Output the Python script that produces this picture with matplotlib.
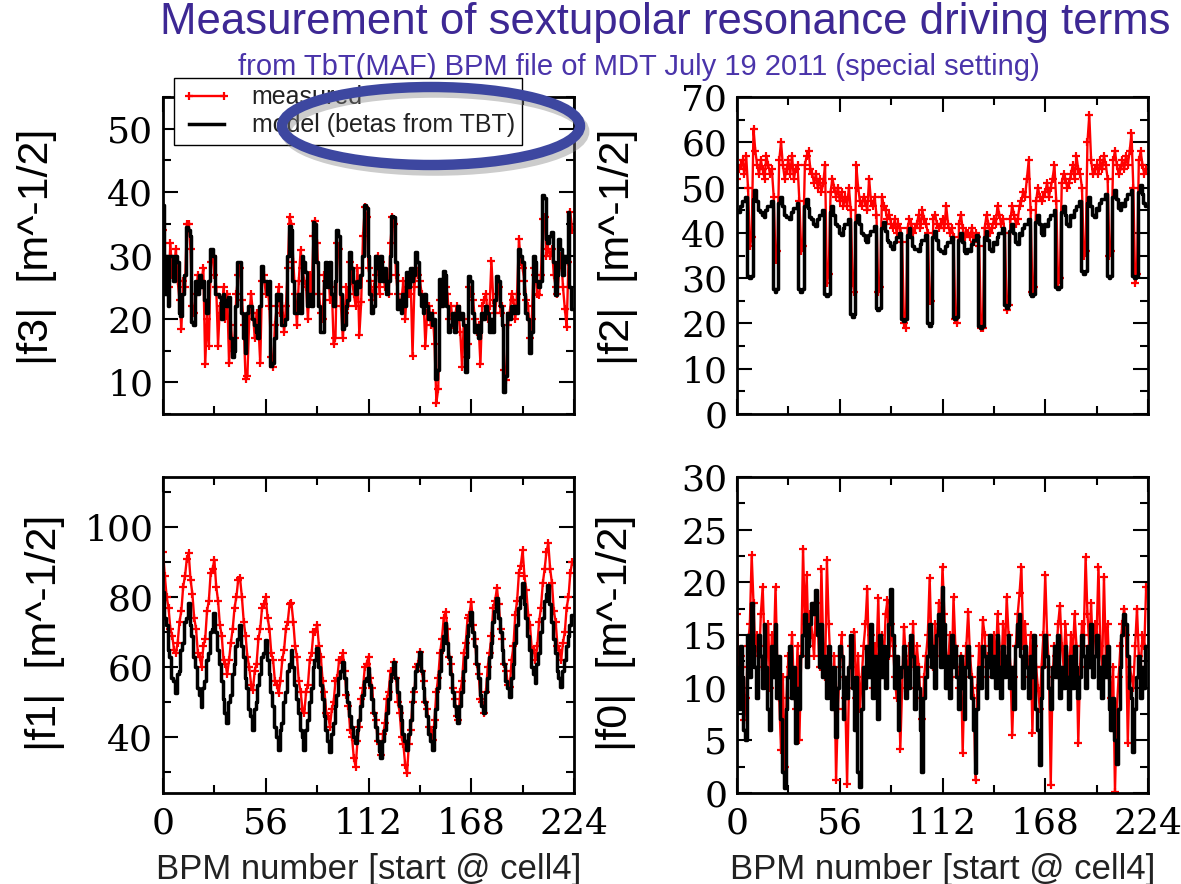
import numpy as np
import matplotlib
matplotlib.use("Agg")
import matplotlib.pyplot as plt
from matplotlib.patches import Ellipse
from matplotlib.ticker import MultipleLocator, FixedLocator
import matplotlib.patheffects as pe

plt.rcParams["font.family"] = ["Liberation Sans", "DejaVu Sans"]

# BPM index along the ring (start @ cell4)
bpm = np.arange(224)

# ---------------- |f3| ----------------
f3_measured = [
    34, 26, 28, 25, 32, 27, 28, 31, 26, 23, 18.4, 26, 25, 35,
    35, 31, 22, 21, 24, 27, 25, 26, 28, 12.9, 20, 15.8, 29, 30,
    27, 25, 15.8, 22, 21, 25, 20, 24, 13, 19, 15, 17, 24, 27,
    28, 23, 19, 10.5, 11, 20, 24, 21, 17, 21, 19, 13, 26, 27,
    24, 25, 22, 14, 12.4, 19, 22, 25, 21, 22, 18, 22, 28, 36,
    35, 29, 24, 19, 26, 30.8, 28, 26, 25, 20, 27, 24, 33, 35.5,
    32, 24, 21, 20, 27, 26, 28, 23, 25, 16, 17, 32, 31, 22,
    17, 21, 25, 22, 29, 26, 24, 22, 28, 17.4, 22.6, 33, 37.6, 36,
    28, 26, 23, 25, 27, 30, 24, 29, 27, 25, 26, 24, 32, 36,
    35, 27, 24, 22, 23, 26, 20, 25, 24, 26, 14.2, 25, 28, 27,
    26, 24, 23, 15.8, 21, 22, 19, 21, 16, 6.8, 9, 23, 24, 26,
    25, 24, 20, 22, 19, 20, 22, 21, 18, 12.4, 20, 14, 16, 25,
    24, 23, 20, 18, 19, 12.9, 22, 23, 24, 20, 22, 29.2, 23, 21,
    24, 25, 21, 22, 12, 10.3, 19, 21, 24, 23, 20, 24, 32.6, 29,
    28, 26, 23, 22, 17, 20, 28, 27, 24, 23.7, 27, 35.8, 36, 30,
    31, 30, 31, 27, 25, 24, 28, 30, 25, 21.6, 18.7, 29, 36.8, 34,
]
f3_model = [
    38, 24, 30, 22, 30, 30, 26, 30, 29, 21, 20.5, 24, 27, 34.5,
    34, 33, 19.5, 19, 26, 24, 27, 25, 26, 23, 21, 26, 31, 31,
    30, 24, 24, 23.5, 20, 24, 23, 22, 23.5, 17, 14, 15, 22, 29,
    29, 21, 17, 14.7, 21, 22, 22, 20, 19, 18, 17, 22, 28.4, 26,
    26, 24, 26, 12.6, 13, 17, 24, 23, 24, 19, 19, 20, 30, 34.7,
    34, 26, 21, 21, 24, 21, 30, 29, 27.4, 22, 24, 22, 35.3, 35,
    29, 22, 18, 18, 26, 29, 25, 29, 24, 22, 26, 34, 33, 24,
    18.4, 19, 22, 23, 30.5, 28, 25.8, 24, 26, 25, 27, 30, 38, 37.5,
    30, 24, 21, 22, 30, 28, 26, 30, 26, 28, 24, 26, 30, 36.3,
    36, 29, 21.6, 23, 21, 24, 22, 27.4, 25, 28, 26, 27, 30.5, 29,
    24, 22, 21, 24, 22, 20, 21, 19, 20, 10.5, 12, 26.3, 22, 27.6,
    27, 22, 18, 19, 21, 18, 21, 22, 20, 21, 19, 11.6, 14, 26.8,
    26, 21, 18, 19, 17, 18, 21, 20, 22, 21, 18, 20, 18, 23,
    26.8, 26, 22, 19, 8.4, 11, 21, 20, 22, 21, 22, 21, 31, 30,
    29, 24, 21, 20, 14.7, 18, 30, 29, 26, 25, 26, 39.5, 39, 32.6,
    32, 33, 33.7, 29, 23.7, 27, 32.6, 31, 27, 30, 29, 36.8, 25, 21.6,
]

# ---------------- |f2| ----------------
f2_measured = [
    52, 54, 55, 56, 53, 57, 50, 37, 39, 63, 58, 55, 53, 56,
    54, 52, 57, 55, 53, 54, 48, 34, 36, 56, 60, 55, 52, 54,
    56, 53, 57, 52, 54, 55, 47, 36, 37, 55, 57, 58, 54, 53,
    51, 53, 50, 52, 49, 51, 55, 29, 31, 49, 52, 50, 48, 50,
    47, 49, 46, 48, 46, 50, 45, 29, 27, 55, 50, 47, 46, 48,
    47, 45, 52, 47, 46, 48, 44, 27, 28, 48, 46, 45, 43, 44,
    42, 41, 43, 40, 42, 41, 38, 20, 19, 41, 43, 42, 40, 41,
    42, 44, 41, 45, 43, 42, 40, 25, 25, 43, 44, 42, 41, 42,
    43, 41, 46, 42, 40, 41, 39, 21, 20, 42, 44, 41, 39, 40,
    40, 39, 41, 38, 40, 39, 37, 19, 19, 41, 44, 42, 40, 41,
    43, 42, 46, 44, 42, 43, 40, 23, 24, 43, 46, 44, 42, 43,
    46, 47, 49, 48, 52, 56, 45, 27, 28, 47, 50, 48, 47, 48,
    49, 51, 48, 50, 52, 55, 47, 29, 30, 51, 53, 52, 50, 51,
    53, 55, 52, 57, 54, 53, 50, 35, 36, 60, 66, 56, 53, 54,
    55, 53, 56, 54, 57, 55, 52, 35, 36, 56, 58, 55, 53, 54,
    56, 54, 57, 55, 58, 62, 50, 29, 31, 56, 58, 55, 53, 54,
]
f2_model = [
    45, 44.5, 46, 47, 47, 48, 30.5, 30, 30.5, 47.5, 49.5, 47, 45, 44.5,
    44, 43.5, 45, 46, 46, 47, 27.5, 27, 27.5, 46.5, 48, 46, 44, 43.5,
    43.5, 43, 44.5, 45.5, 45.5, 46.5, 27.5, 27, 27.5, 46, 47.5, 45.5, 43.5, 43,
    42, 41.5, 43, 44, 44, 45, 26.5, 26, 26.5, 44.5, 46, 44, 42, 41.5,
    40, 39.5, 41, 42, 42, 43, 22, 21.5, 22, 42.5, 44, 42, 40, 39.5,
    38.5, 38, 39.5, 40.5, 40.5, 41.5, 23.5, 23, 23.5, 41, 42.5, 40.5, 38.5, 38,
    37, 36.5, 38, 39, 39, 40, 21, 20.5, 21, 39.5, 41, 39, 37, 36.5,
    36.5, 36, 37.5, 38.5, 38.5, 39.5, 20, 19.5, 20, 39, 40.5, 38.5, 36.5, 36,
    36, 35.5, 37, 38, 38, 39, 21.5, 21, 21.5, 38.5, 40, 38, 36, 35.5,
    36.5, 36, 37.5, 38.5, 38.5, 39.5, 19.5, 19, 19.5, 39, 40.5, 38.5, 36.5, 36,
    38, 37.5, 39, 40, 40, 41, 24, 23.5, 24, 40.5, 42, 40, 38, 37.5,
    40, 39.5, 41, 42, 42, 43, 26.5, 26, 26.5, 42.5, 44, 42, 40, 39.5,
    42, 41.5, 43, 44, 44, 45, 28, 27.5, 28, 44.5, 46, 44, 42, 41.5,
    44, 43.5, 45, 46, 46, 47, 31.5, 31, 31.5, 46.5, 48, 46, 44, 43.5,
    45.5, 45, 46.5, 47.5, 47.5, 48.5, 30.5, 30, 30.5, 48, 49.5, 47.5, 45.5, 45,
    46.5, 46, 47.5, 48.5, 48.5, 49.5, 30.5, 30, 30.5, 49, 50.5, 48.5, 46.5, 46,
]

# ---------------- |f1| ----------------
f1_measured = [
    93, 86, 80, 77, 71, 69, 65, 64, 67, 73, 76, 83, 86, 91,
    92.5, 85, 81, 74, 71, 64, 63, 60, 66, 68, 76, 79, 87, 88,
    90.6, 83, 79, 72, 69, 62, 61, 58, 62, 67, 71, 77, 80, 85,
    85.3, 80, 73, 69, 63, 60, 55, 53.4, 59, 61, 68, 71, 77, 78,
    80, 74, 71, 64, 62, 56, 55, 52.5, 56, 62, 65, 71, 73, 78,
    78.2, 73, 66, 63, 56, 53, 48, 46.8, 53, 55, 62, 64, 70, 70,
    72, 66, 63, 56, 53, 47, 46, 43, 48, 50, 56, 57, 62, 62,
    63.9, 59, 52, 49, 42, 40, 34, 31.5, 39, 43, 51, 54, 60, 61,
    63, 57, 54, 47, 45, 39, 38, 34.9, 41, 44, 51, 53, 59, 59,
    61.5, 57, 50, 47, 40, 38, 32, 29.6, 38, 42, 50, 53, 60, 61,
    64.4, 59, 56, 50, 48, 43, 42, 39.1, 45, 53, 57, 64, 68, 74,
    75.8, 71, 63, 61, 54, 51, 46, 44.9, 53, 56, 64, 67, 74, 75,
    78.7, 72, 68, 61, 58, 51, 50, 46.8, 53, 60, 64, 69, 77, 79,
    82.5, 78, 71, 68, 61, 59, 55, 54.4, 62, 66, 75, 79, 87, 89,
    93.4, 86, 82, 75, 72, 65, 65, 62, 66, 73, 77, 84, 88, 93,
    95.3, 88, 84, 76, 73, 66, 65, 62, 67, 70, 77, 80, 87, 90,
]
f1_model = [
    81.5, 74, 72, 65, 63, 57, 56, 52.5, 58, 59, 65, 67, 73, 74,
    78.2, 72, 69, 63, 60, 54, 52, 48.7, 54, 56, 62, 64, 70, 71,
    75.3, 70, 65, 61, 56, 51, 47, 43.9, 50, 52, 58, 61, 66, 68,
    72, 66, 63, 57, 54, 48, 46, 42, 48, 50, 55, 58, 63, 64,
    67.7, 62, 58, 53, 49, 43, 40, 36.3, 42, 44, 50, 53, 59, 61,
    64.9, 60, 55, 51, 47, 42, 40, 36.3, 42, 45, 50, 54, 60, 62,
    65.3, 60, 55, 51, 46, 42, 39, 35.8, 41, 44, 49, 52, 57, 59,
    61.5, 57, 53, 50, 46, 43, 40, 38.2, 42, 45, 49, 52, 56, 57,
    59.6, 55, 51, 47, 43, 39, 36, 33.9, 39, 42, 47, 51, 56, 58,
    61.5, 57, 53, 49, 45, 41, 39, 36.3, 41, 45, 50, 54, 59, 61,
    64.4, 59, 54, 50, 46, 41, 39, 36.3, 43, 48, 54, 59, 65, 69,
    72.5, 67, 63, 58, 53, 49, 46, 43.9, 49, 53, 59, 63, 69, 72,
    75.8, 70, 66, 61, 57, 52, 49, 46.8, 53, 57, 63, 67, 73, 76,
    79.6, 74, 70, 65, 61, 56, 54, 51.5, 57, 61, 67, 72, 77, 80,
    83.9, 78, 74, 69, 65, 60, 58, 55.3, 61, 64, 70, 74, 79, 81,
    83.4, 78, 73, 68, 64, 59, 57, 54.4, 59, 62, 66, 69, 72, 75,
]

# ---------------- |f0| ----------------
f0_measured = [
    17, 10, 13, 12, 6.9, 9, 14, 16, 22.6, 18, 13, 15, 12, 17,
    19.6, 14, 12, 16, 10, 15, 13, 19.6, 12, 9, 4.1, 11, 2.5, 9,
    13, 12, 15, 10, 8, 14, 5, 13, 23.2, 16, 20.7, 14, 17, 15,
    13, 18, 16, 12, 21.3, 14, 11, 22.1, 16, 12, 9, 13, 1.2, 8,
    12, 15, 11, 9, 0.9, 10, 14, 12, 15.3, 9, 13, 8, 11, 14,
    16, 19.4, 12, 15, 10, 14, 13, 18.5, 11, 15, 12, 17, 18.3, 13,
    16, 14, 11, 9, 12, 4.2, 10, 15.8, 13, 11, 14, 12, 16, 10,
    14, 12, 9, 7, 11, 13, 15, 20.4, 14, 12, 16, 13, 18, 15,
    21.5, 17, 13, 12, 15, 11, 18.6, 14, 12, 10, 13, 3.8, 11, 14,
    17.2, 13, 11, 9, 1.2, 10, 14, 12, 16.4, 15, 11, 13, 14, 12,
    15, 12, 17, 14, 11, 16, 13, 18.6, 15, 12, 5.5, 11, 14, 17,
    19, 21.5, 14, 16, 13, 11, 15, 5.7, 14, 12, 10, 8, 12, 15,
    20.7, 15, 12, 0.8, 11, 14, 13, 16, 17.8, 14, 12, 16, 13, 11,
    15, 13, 17, 14, 4.7, 12, 16, 15, 22.4, 17, 14, 18, 13, 16,
    15, 21.5, 14, 12, 20.5, 13, 16, 11, 9, 12, 0.1, 8, 11, 14,
    16, 17.5, 15, 4.7, 12, 11, 10, 14, 17.5, 13, 12, 15, 14, 19.6,
]
f0_model = [
    12, 8, 14, 11, 6, 5, 15, 11, 18, 14, 12, 9, 15, 13,
    10, 16, 12, 8, 6, 14, 11, 16, 9, 13, 7, 2, 0.5, 8,
    11, 14, 9, 12, 4.7, 10, 8, 13, 15, 17, 12, 14, 16, 18,
    17, 19.3, 15, 12, 16, 11, 13, 9, 14, 11, 8, 12, 5.3, 10,
    14, 13, 7, 11, 9, 12, 15, 10, 6, 11, 2, 0.6, 8, 12,
    10, 14, 11, 16, 9, 13, 12, 7, 15, 11, 14, 10, 13, 16,
    19.4, 15, 10, 13, 6, 11, 12, 14, 9, 12, 10, 15, 13, 8,
    12, 10, 6, 2, 9, 11, 13, 16, 12, 14, 10, 15, 17, 12,
    19.6, 16, 10, 13, 9, 15, 12, 14, 11, 8, 13, 10, 7, 12,
    14, 11, 9, 6, 1.9, 8, 12, 10, 14, 13, 9, 12, 15, 11,
    13, 10, 15, 12, 9, 14, 11, 13, 15, 10, 12, 8, 14, 16,
    17, 13, 10, 14, 12, 9, 13, 11, 15, 8, 6, 2.7, 9, 12,
    15, 13, 10, 8, 12, 14, 11, 15, 9, 12, 10, 14, 11, 8,
    13, 10, 14, 12, 9, 11, 15, 13, 10, 14, 12, 16, 11, 13,
    15, 10, 12, 9, 13, 11, 14, 8, 6, 9, 5, 2.8, 8, 12,
    15, 17, 16, 13, 10, 9, 3.9, 8, 11, 13, 9, 12, 10, 14,
]

x_major = [0, 56, 112, 168, 224]
x_minor = [28, 84, 140, 196]

TITLE = "Measurement of sextupolar resonance driving terms"
SUBTITLE = "from TbT(MAF) BPM file of MDT July 19 2011 (special setting)"
XLABEL = "BPM number [start @ cell4]"
YUNIT = "  [m^-1/2]"

W, H = 1181, 884
fig = plt.figure(figsize=(W / 100, H / 100), dpi=100)
fig.patch.set_facecolor("white")


def px_box(x0, y0, x1, y1):
    return [x0 / W, 1 - y1 / H, (x1 - x0) / W, (y1 - y0) / H]


panels = [
    # name, measured, model, box, ylim, major step, minor step, label pos
    ("|f3|", f3_measured, f3_model, px_box(163, 97, 574, 414), (5, 55), 10, 5, (37, 247)),
    ("|f2|", f2_measured, f2_model, px_box(737, 97, 1148, 414), (0, 70), 10, 5, (618, 247)),
    ("|f1|", f1_measured, f1_model, px_box(163, 477, 574, 793), (24, 114.3), 20, 10, (45, 633)),
    ("|f0|", f0_measured, f0_model, px_box(737, 477, 1148, 793), (0, 30), 5, 2.5, (616, 633)),
]

axes = []
for i, (name, meas, model, box, ylim, maj, mnr, lpos) in enumerate(panels):
    ax = fig.add_axes(box)
    axes.append(ax)
    ax.plot(bpm, meas, color="#ff0000", lw=1.7, marker="+", ms=6, mew=1.6,
            label="measured", zorder=2)
    ax.plot(bpm, model, color="black", lw=2.5, drawstyle="steps-mid",
            label="model (betas from TBT)", zorder=3)
    ax.set_xlim(0, 224)
    ax.set_ylim(*ylim)
    ax.xaxis.set_major_locator(FixedLocator(x_major))
    ax.xaxis.set_minor_locator(FixedLocator(x_minor))
    ax.yaxis.set_major_locator(MultipleLocator(maj))
    ax.yaxis.set_minor_locator(MultipleLocator(mnr))
    ax.tick_params(which="both", direction="in", top=True, right=True,
                   width=1.5, colors="black", labelsize=26,
                   labelfontfamily="DejaVu Serif", pad=7)
    ax.tick_params(which="major", length=11)
    ax.tick_params(which="minor", length=6)
    for sp in ax.spines.values():
        sp.set_linewidth(2.0)
    if i < 2:
        ax.tick_params(labelbottom=False)
    else:
        ax.tick_params(axis="x", pad=10)
        cx = box[0] + box[2] / 2
        fig.text(cx, 1 - 869 / H, XLABEL, ha="center", va="center",
                 fontsize=25, color="#222222")
    fig.text(lpos[0] / W, 1 - lpos[1] / H, name + YUNIT, rotation=90,
             ha="center", va="center", fontsize=31, color="black")

# Titles
fig.text(665 / W, 1 - 34 / H, TITLE, ha="center", va="baseline",
         fontsize=31.5, color="#3d2894")
fig.text(639 / W, 1 - 75 / H, SUBTITLE, ha="center", va="baseline",
         fontsize=21, color="#4a34aa")

# Legend spanning the top of the |f3| panel
handles, labels = axes[0].get_legend_handles_labels()
leg = fig.legend(handles, labels, loc="upper left",
                 bbox_to_anchor=(174 / W, 1 - 78 / H),
                 bbox_transform=fig.transFigure, frameon=True, fancybox=False,
                 edgecolor="black", framealpha=1, fontsize=18, numpoints=2,
                 handlelength=2.0, borderpad=0.3, labelspacing=0.15,
                 handletextpad=0.8, borderaxespad=0)
leg.get_frame().set_linewidth(1.0)
for t in leg.get_texts():
    t.set_color("#222222")

# Highlight ring around the model label
ring = Ellipse((431 / W, 1 - 126 / H), width=298 / W, height=78 / H,
               transform=fig.transFigure, fill=False, edgecolor="#3d47a0",
               linewidth=7.5, zorder=10,
               path_effects=[pe.SimpleLineShadow(offset=(3, -4), shadow_color="gray", alpha=0.4),
                             pe.Normal()])
fig.add_artist(ring)

fig.savefig("out.png", dpi=100, facecolor="white")
